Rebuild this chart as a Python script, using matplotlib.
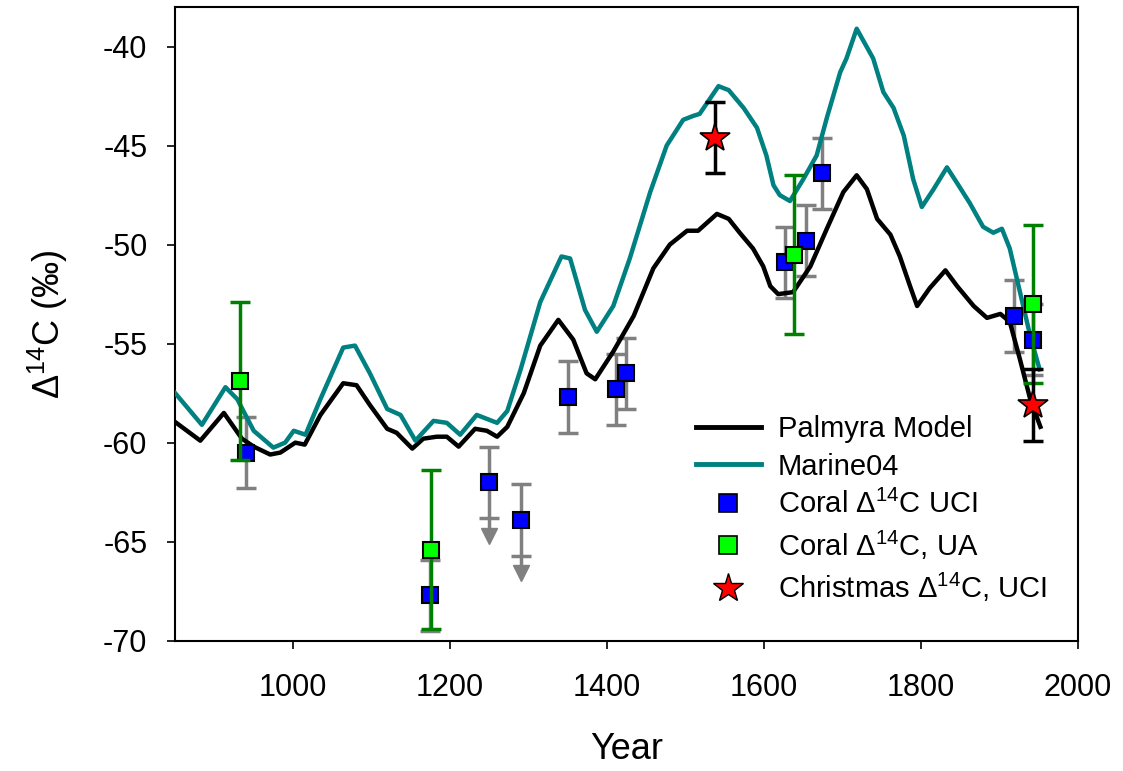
import numpy as np
import matplotlib
matplotlib.use('Agg')
import matplotlib.pyplot as plt
from matplotlib.lines import Line2D

plt.rcParams['font.family'] = ['Liberation Sans', 'DejaVu Sans']
plt.rcParams['mathtext.default'] = 'regular'
plt.rcParams['axes.unicode_minus'] = False

# Palmyra model curve
model_year = [848, 882, 912, 935, 950, 971, 984, 1003, 1015, 1035, 1064, 1081, 1098,
              1120, 1132, 1152, 1166, 1183, 1196, 1211, 1232, 1247, 1260, 1273, 1294,
              1315, 1338, 1357, 1374, 1385, 1408, 1434, 1459, 1480, 1502, 1516, 1540,
              1555, 1569, 1586, 1599, 1608, 1618, 1637, 1659, 1680, 1701, 1718, 1731,
              1744, 1761, 1773, 1786, 1795, 1811, 1831, 1846, 1867, 1884, 1901, 1913,
              1926, 1939, 1952]
model_d14c = [-58.9, -59.9, -58.5, -59.8, -60.2, -60.6, -60.5, -60.0, -60.1, -58.6, -57.0,
              -57.1, -58.1, -59.3, -59.5, -60.3, -59.8, -59.7, -59.7, -60.2, -59.3, -59.4,
              -59.7, -59.2, -57.5, -55.1, -53.8, -54.8, -56.5, -56.8, -55.4, -53.6, -51.2,
              -50.0, -49.3, -49.3, -48.45, -48.7, -49.4, -50.2, -51.1, -52.1, -52.5, -52.4,
              -51.1, -49.2, -47.35, -46.5, -47.2, -48.7, -49.5, -50.6, -52.1, -53.1, -52.2,
              -51.3, -52.1, -53.1, -53.7, -53.5, -53.9, -55.8, -57.8, -59.2]

# Marine04 curve
marine_year = [850, 884, 914, 929, 950, 975, 990, 1001, 1016, 1035, 1064, 1079, 1098,
               1120, 1137, 1156, 1179, 1196, 1213, 1234, 1260, 1273, 1290, 1315, 1342,
               1353, 1372, 1387, 1408, 1429, 1455, 1476, 1497, 1510, 1518, 1542, 1555,
               1574, 1591, 1603, 1612, 1620, 1633, 1650, 1667, 1680, 1697, 1705, 1718,
               1739, 1752, 1765, 1778, 1790, 1801, 1816, 1833, 1846, 1862, 1879, 1892,
               1903, 1913, 1926, 1939, 1951]
marine_d14c = [-57.5, -59.1, -57.2, -57.8, -59.4, -60.25, -60.0, -59.4, -59.6, -57.8, -55.2,
               -55.1, -56.5, -58.3, -58.6, -59.9, -58.9, -59.0, -59.6, -58.6, -59.0, -58.4,
               -56.3, -52.9, -50.6, -50.7, -53.3, -54.4, -53.1, -50.7, -47.35, -45.0, -43.7,
               -43.5, -43.4, -42.0, -42.2, -43.1, -44.1, -45.5, -47.0, -47.5, -47.8, -46.7,
               -45.5, -43.6, -41.3, -40.6, -39.1, -40.6, -42.3, -43.1, -44.5, -46.7, -48.1,
               -47.2, -46.1, -46.9, -47.9, -49.1, -49.4, -49.2, -50.2, -52.4, -54.6, -56.3]

# Coral UCI
uci_year = [940, 1174, 1250, 1290, 1350, 1411, 1424, 1627, 1654, 1674, 1919, 1942]
uci_d14c = [-60.5, -67.7, -62.0, -63.9, -57.7, -57.3, -56.5, -50.9, -49.8, -46.4, -53.6, -54.8]
uci_err = [1.8] * 12
# upper-limit arrows (year, arrow tip)
arrow_year = [1250, 1290]
arrow_low = [-63.8, -65.7]
arrow_tip = [-64.7, -66.6]

# Coral UA
ua_year = [933, 1176, 1638, 1942]
ua_d14c = [-56.9, -65.4, -50.5, -53.0]
ua_err = [4.0, 4.0, 4.0, 4.0]

# Christmas UCI
xmas_year = [1537, 1942]
xmas_d14c = [-44.6, -58.1]
xmas_err = [1.8, 1.8]

fig = plt.figure(figsize=(11.23, 7.71), dpi=100)
ax = fig.add_axes([0.156, 0.169, 0.804, 0.822])

ax.plot(model_year, model_d14c, color='black', lw=3.2, zorder=3, solid_joinstyle='round')
ax.plot(marine_year, marine_d14c, color='#008080', lw=3.2, zorder=3, solid_joinstyle='round')

ax.errorbar(uci_year, uci_d14c, yerr=uci_err, fmt='none', ecolor='#808080',
            elinewidth=2.5, capsize=7, capthick=2.5, zorder=2)
for yr, lo, tip in zip(arrow_year, arrow_low, arrow_tip):
    ax.plot([yr, yr], [lo, tip], color='#808080', lw=2.5, zorder=2)
    ax.plot([yr], [tip], marker='v', color='#808080', ms=11, zorder=2)
ax.plot(uci_year, uci_d14c, 's', color='#0000ff', mec='black', mew=1.5, ms=12, zorder=4)

ax.errorbar(ua_year, ua_d14c, yerr=ua_err, fmt='none', ecolor='#008000',
            elinewidth=2.5, capsize=7, capthick=2.5, zorder=5)
ax.plot(ua_year, ua_d14c, 's', color='#00ff00', mec='black', mew=1.5, ms=12, zorder=6)

ax.errorbar(xmas_year, xmas_d14c, yerr=xmas_err, fmt='none', ecolor='black',
            elinewidth=2.5, capsize=7, capthick=2.5, zorder=5)
ax.plot(xmas_year, xmas_d14c, '*', color='#ff0000', mec='black', mew=1.2, ms=22, zorder=6)

ax.set_xlim(850, 2000)
ax.set_ylim(-70, -38)
ax.set_xticks(np.arange(1000, 2001, 200))
ax.set_yticks(np.arange(-70, -39, 5))
ax.tick_params(direction='out', length=6, width=1.2, labelsize=22)
ax.tick_params(axis='x', pad=17)
ax.tick_params(axis='y', pad=14)
for s in ax.spines.values():
    s.set_linewidth(1.5)

ax.set_xlabel('Year', fontsize=26, labelpad=21)
ax.set_ylabel('Δ$^{14}$C (‰)', fontsize=26, labelpad=24)

handles = [
    Line2D([], [], color='black', lw=3.5),
    Line2D([], [], color='#008080', lw=3.5),
    Line2D([], [], ls='none', marker='s', color='#0000ff', mec='black', mew=1.2, ms=13),
    Line2D([], [], ls='none', marker='s', color='#00ff00', mec='black', mew=1.2, ms=13),
    Line2D([], [], ls='none', marker='*', color='#ff0000', mec='black', mew=1.0, ms=22),
]
labels = ['Palmyra Model', 'Marine04', 'Coral Δ$^{14}$C UCI', 'Coral Δ$^{14}$C, UA',
          'Christmas Δ$^{14}$C, UCI']
ax.legend(handles, labels, loc='lower right', bbox_to_anchor=(0.985, 0.03), frameon=False,
          fontsize=21, handlelength=2.2, labelspacing=0.32, handletextpad=0.6,
          borderaxespad=0.2)

fig.savefig('out.png', dpi=100)
